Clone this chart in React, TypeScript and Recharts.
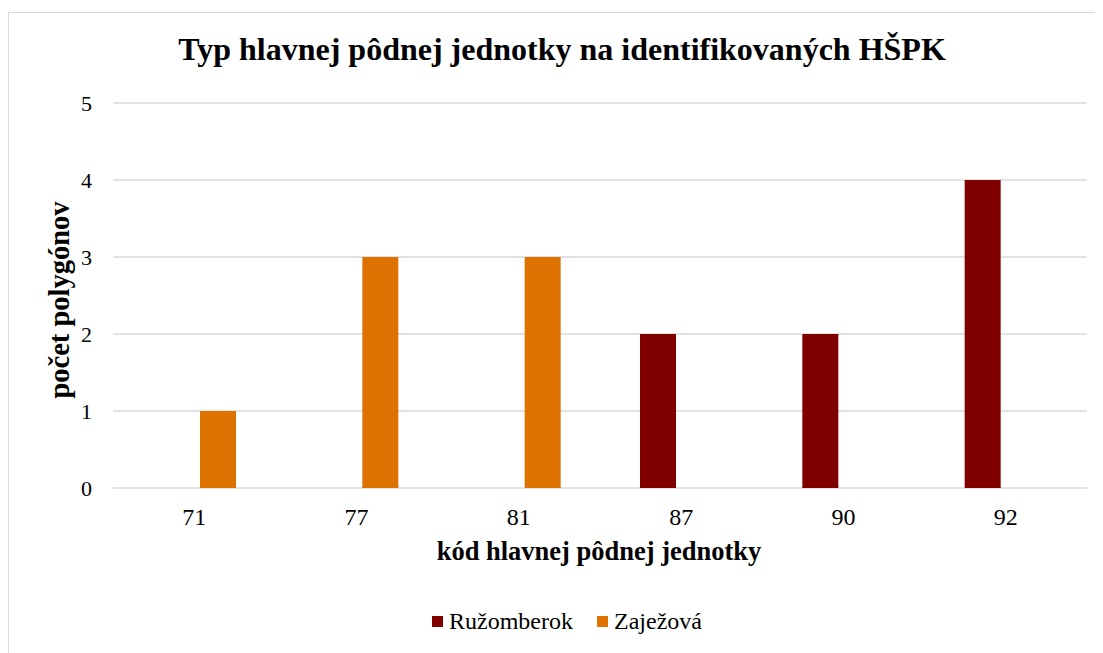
import React from 'react';
import { BarChart, Bar, XAxis, YAxis, CartesianGrid } from 'recharts';

const categories = ['71', '77', '81', '87', '90', '92'];
const ruzomberok = [0, 0, 0, 2, 2, 4];
const zajezova = [1, 3, 3, 0, 0, 0];
const yTicks = [0, 1, 2, 3, 4, 5];
const seriesNames = ['Ružomberok', 'Zaježová'];
const seriesColors = ['#800000', '#DD7200'];
const title = 'Typ hlavnej pôdnej jednotky na identifikovaných HŠPK';
const xLabel = 'kód hlavnej pôdnej jednotky';
const yLabel = 'počet polygónov';

const data = categories.map((c, i) => ({ cat: c, r: ruzomberok[i], z: zajezova[i] }));

const FONT = '"Liberation Serif", "Times New Roman", serif';

export default function App() {
  return (
    <div style={{ paddingTop: 4 }}>
      <div
        style={{
          position: 'relative',
          width: 1095,
          height: 641,
          boxSizing: 'border-box',
          borderTop: '1px solid #d9d9d9',
          borderLeft: '1px solid #d9d9d9',
          fontFamily: FONT,
          overflow: 'hidden',
        }}
      >
        <div
          style={{
            position: 'absolute',
            left: 53,
            width: 1000,
            top: 20,
            textAlign: 'center',
            fontSize: 32,
            lineHeight: '32px',
            fontWeight: 'bold',
            color: '#000',
            whiteSpace: 'nowrap',
          }}
        >
          {title}
        </div>
        <div style={{ position: 'absolute', left: 0, top: 0 }}>
          <BarChart
            width={1094}
            height={640}
            data={data}
            margin={{ top: 90, right: 16, bottom: 135, left: 0 }}
            barSize={36}
            barGap={11}
          >
            <CartesianGrid horizontal vertical={false} stroke="#d9d9d9" strokeWidth={1.5} />
            <XAxis
              dataKey="cat"
              axisLine={false}
              tickLine={false}
              height={30}
              tickMargin={14}
              tick={{ fill: '#000', fontSize: 24, fontFamily: FONT }}
            />
            <YAxis
              width={104}
              domain={[0, 5]}
              ticks={yTicks}
              axisLine={false}
              tickLine={false}
              tickMargin={15}
              tick={{ fill: '#000', fontSize: 22, fontFamily: FONT }}
            />
            <Bar dataKey="r" name={seriesNames[0]} fill={seriesColors[0]} isAnimationActive={false} />
            <Bar dataKey="z" name={seriesNames[1]} fill={seriesColors[1]} isAnimationActive={false} />
          </BarChart>
        </div>
        <div
          style={{
            position: 'absolute',
            left: 51,
            top: 287,
            transform: 'translate(-50%, -50%) rotate(-90deg)',
            fontSize: 28.5,
            lineHeight: '28.5px',
            fontWeight: 'bold',
            whiteSpace: 'nowrap',
          }}
        >
          {yLabel}
        </div>
        <div
          style={{
            position: 'absolute',
            left: 90,
            width: 1000,
            top: 525,
            textAlign: 'center',
            fontSize: 26.5,
            lineHeight: '26.5px',
            fontWeight: 'bold',
            whiteSpace: 'nowrap',
          }}
        >
          {xLabel}
        </div>
        <div
          style={{
            position: 'absolute',
            left: 0,
            width: 1116,
            top: 596,
            display: 'flex',
            justifyContent: 'center',
            alignItems: 'center',
            fontSize: 24,
            lineHeight: '24px',
          }}
        >
          {seriesNames.map((n, i) => (
            <div key={n} style={{ display: 'flex', alignItems: 'center', marginRight: i === 0 ? 24 : 0 }}>
              <span style={{ display: 'inline-block', width: 11, height: 11, background: seriesColors[i], marginRight: 6 }} />
              <span>{n}</span>
            </div>
          ))}
        </div>
      </div>
    </div>
  );
}
